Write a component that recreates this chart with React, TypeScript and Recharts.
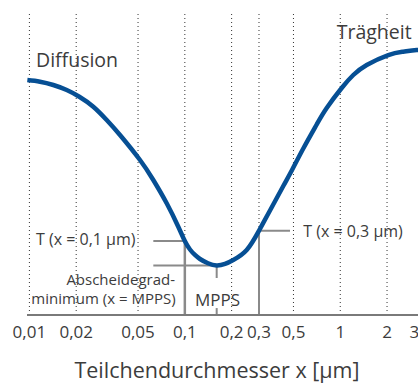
import { LineChart, Line, XAxis, YAxis, ReferenceLine } from "recharts";

// particle size in µm (log axis) and separation efficiency (relative, 0..100)
const sizes = [
  0.0097, 0.0117, 0.01425, 0.01738, 0.02095, 0.02577, 0.03143, 0.03827, 0.05147, 0.06268, 0.07643,
  0.09076, 0.1, 0.10795, 0.11622, 0.12523, 0.14095, 0.1603, 0.18129, 0.20497, 0.25002, 0.3, 0.35312,
  0.43001, 0.49137, 0.57833, 0.70531, 0.81804, 1.0215, 1.2131, 1.4797, 2.0378, 2.5438, 3.1028, 4.0,
];
const efficiency = [
  77.8, 77.25, 76.16, 74.5, 72.28, 68.97, 64.57, 59.6, 51.32, 44.7, 36.99,
  29.24, 24.5, 21.69, 19.87, 18.54, 17.12, 16.39, 16.89, 18.21, 21.52, 27.91, 34.6,
  42.72, 48.18, 55.13, 63.08, 68.54, 75.17, 79.47, 82.78, 86.09, 87.19, 87.75, 88.0,
];

const tickValues = [0.01, 0.02, 0.05, 0.1, 0.2, 0.3, 0.5, 1, 2, 3];
const tickLabels = ["0,01", "0,02", "0,05", "0,1", "0,2", "0,3", "0,5", "1", "2", "3"];
const gridValues = [0.01, 0.02, 0.05, 0.1, 0.2, 0.3, 0.5, 1, 2];

// annotation anchors
const mppsSize = 0.1603;
const leftLineStart = 0.0627;
const rightLineEnd = 0.475;
const mppsGapTop = 12.25;
const mppsGapBottom = 2.3;

const data = sizes.map((x, i) => ({ x, y: efficiency[i] }));
const effAt = (x: number) => efficiency[sizes.indexOf(x)];

const FONT = "'Open Sans', sans-serif";
const TEXT = "#3c3c3c";
const GREY = "#8a8a8a";

const Tick = ({ x, y, payload }: any) => {
  const i = tickValues.indexOf(payload.value);
  return (
    <text x={x} y={y} dy={22.5} textAnchor="middle" fontFamily={FONT} fontSize={17} fill={TEXT}>
      {tickLabels[i]}
    </text>
  );
};

export default function App() {
  const t01 = effAt(0.1);
  const t03 = effAt(0.3);
  const tMin = effAt(mppsSize);
  return (
    <div style={{ position: "absolute", left: 0, top: 0, width: 418, height: 383, overflow: "hidden", background: "#fff" }}>
      <LineChart width={444} height={383} data={data} margin={{ top: 13, right: 10, bottom: 0, left: 27 }}>
        <XAxis
          dataKey="x"
          type="number"
          scale="log"
          domain={[0.00965, 4.01]}
          allowDataOverflow
          ticks={tickValues}
          tick={<Tick />}
          tickLine={false}
          tickSize={0}
          tickMargin={0}
          axisLine={{ stroke: "#7a7a7a", strokeWidth: 2 }}
          height={68}
          interval={0}
        />
        <YAxis hide domain={[0, 100]} />
        {gridValues.map((g) => (
          <ReferenceLine key={g} x={g} stroke="#333" strokeWidth={1} strokeDasharray="1 3" />
        ))}
        <ReferenceLine segment={[{ x: leftLineStart, y: t01 }, { x: 0.1, y: t01 }]} stroke={GREY} strokeWidth={2} />
        <ReferenceLine segment={[{ x: 0.1, y: t01 }, { x: 0.1, y: 0 }]} stroke={GREY} strokeWidth={2.5} />
        <ReferenceLine segment={[{ x: leftLineStart, y: tMin }, { x: mppsSize, y: tMin }]} stroke={GREY} strokeWidth={2} />
        <ReferenceLine segment={[{ x: mppsSize, y: tMin }, { x: mppsSize, y: mppsGapTop }]} stroke={GREY} strokeWidth={2} />
        <ReferenceLine segment={[{ x: mppsSize, y: mppsGapBottom }, { x: mppsSize, y: 0 }]} stroke={GREY} strokeWidth={2} />
        <ReferenceLine segment={[{ x: 0.3, y: t03 }, { x: rightLineEnd, y: t03 }]} stroke={GREY} strokeWidth={2} />
        <ReferenceLine segment={[{ x: 0.3, y: t03 }, { x: 0.3, y: 0 }]} stroke={GREY} strokeWidth={2} />
        <Line
          type="natural"
          dataKey="y"
          stroke="#064f94"
          strokeWidth={4.5}
          dot={false}
          isAnimationActive={false}
        />
      </LineChart>
      <svg width={418} height={383} style={{ position: "absolute", left: 0, top: 0, pointerEvents: "none" }}>
        <g fontFamily={FONT} fill={TEXT}>
          <text x={36} y={66.7} fontSize={19.5}>Diffusion</text>
          <text x={336.7} y={39.3} fontSize={19.5}>Trägheit</text>
          <text x={36} y={245} fontSize={16}>T (x = 0,1 µm)</text>
          <text x={303.3} y={236.7} fontSize={16}>T (x = 0,3 µm)</text>
          <text x={175} y={285} fontSize={15} textAnchor="end">Abscheidegrad-</text>
          <text x={175.7} y={304} fontSize={15} textAnchor="end">minimum (x = MPPS)</text>
          <text x={195} y={306} fontSize={17}>MPPS</text>
          <text x={217} y={378} fontSize={21.5} textAnchor="middle">Teilchendurchmesser x [µm]</text>
        </g>
      </svg>
    </div>
  );
}
